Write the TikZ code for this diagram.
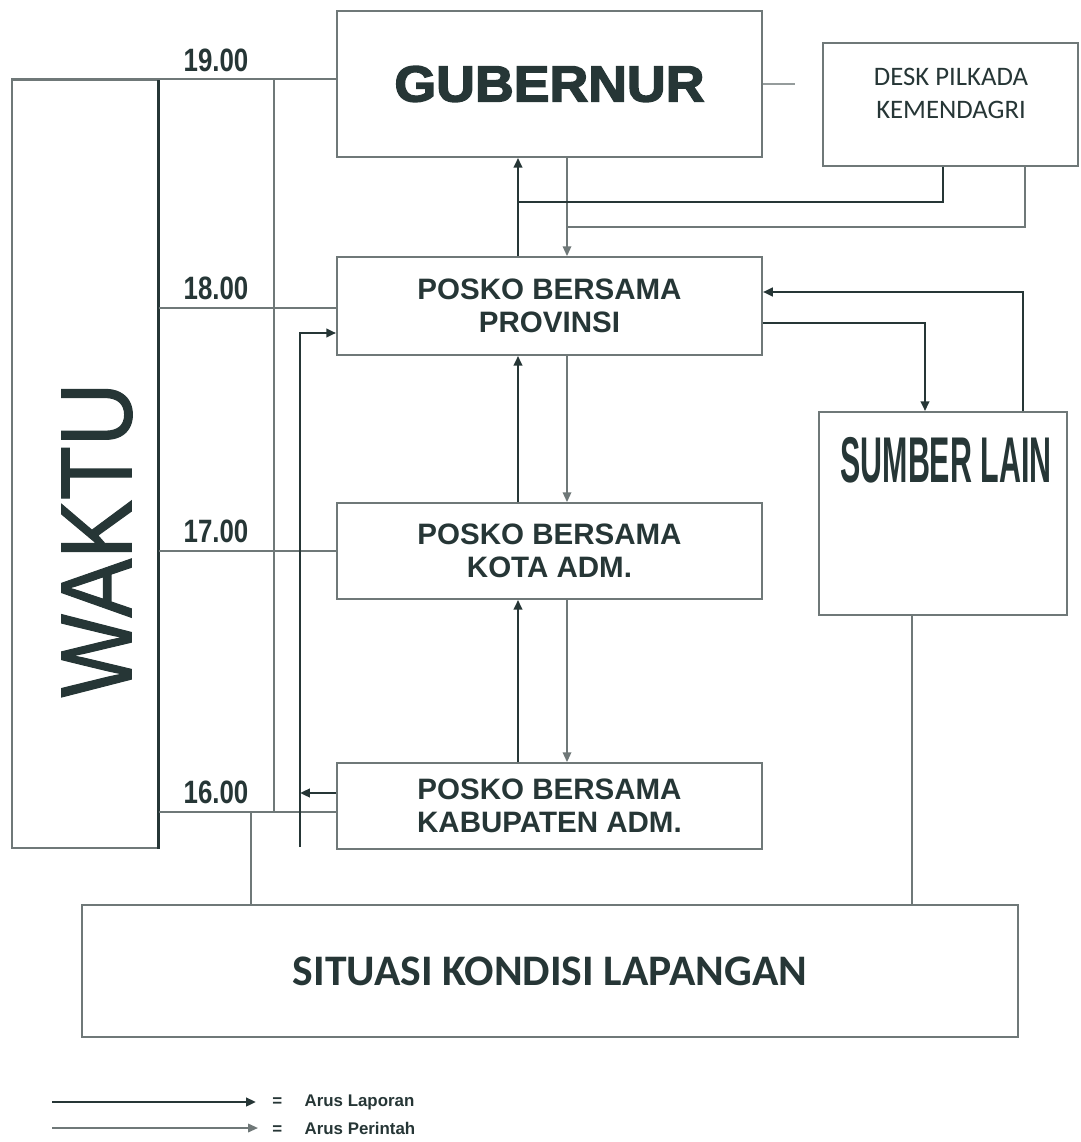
\documentclass[tikz,border=0pt]{standalone}
\usepackage{fontspec}
\setmainfont{Liberation Sans}
\newfontfamily\calfont{Carlito}
\newfontfamily\heavyfont{Liberation Sans Bold}[FakeBold=3,FakeStretch=1.06]
\newfontfamily\midfont{Liberation Sans}[FakeBold=1.2]
\usetikzlibrary{arrows.meta}
\definecolor{ink}{HTML}{263636}
\definecolor{abu}{HTML}{6F7878}
\definecolor{abumuda}{HTML}{959C9C}

\begin{document}
\begin{tikzpicture}[x=0.025cm, y=-0.025cm,
  kotak/.style={draw=abu, line width=1.2pt, text=ink, inner sep=0pt},
  posko/.style={kotak, minimum width=10.625cm, align=center,
    font=\fontsize{21}{23.5}\selectfont\bfseries},
  lapor/.style={draw=ink, line width=2pt, -{Triangle[length=7pt,width=6pt]}},
  perintah/.style={draw=abu, line width=1.3pt, -{Triangle[length=7pt,width=6pt]}},
  garis/.style={draw=abu, line width=1.2pt},
  jam/.style={text=ink, font=\fontsize{23}{23}\selectfont\bfseries, anchor=south, inner sep=0pt},
  legtxt/.style={text=ink, font=\fontsize{12}{12}\selectfont\bfseries, anchor=west, inner sep=0pt}]

  \useasboundingbox (0,0) rectangle (1080,1142);

  \def\xup{518}
  \def\xdn{567}

  % kotak
  \node[kotak, minimum width=3.65cm, minimum height=19.2cm] (waktu) at (85,464) {};
  \node[text=ink, rotate=90, font=\midfont\fontsize{72}{72}\selectfont] (waktutxt) at (97,540)
    {\scalebox{0.87}[1]{WAKTU}};
  \draw[ink, line width=2pt] (waktu.north east) -- (waktu.south east);

  \node[kotak, minimum width=10.625cm, minimum height=3.65cm,
    font=\heavyfont\fontsize{36}{36}\selectfont] (gub) at (549.5,84) {GUBERNUR};

  \node[kotak, minimum width=6.375cm, minimum height=3.075cm] (desk) at (950.5,104.5) {};
  \node[text=ink, align=center, font=\calfont\fontsize{19}{23.4}\selectfont] (desktxt)
    at (951,93.5) {DESK PILKADA\\KEMENDAGRI};

  \node[posko, minimum height=2.45cm] (prov) at (549.5,306) {POSKO BERSAMA\\PROVINSI};
  \node[posko, minimum height=2.4cm] (kota) at (549.5,551) {POSKO BERSAMA\\KOTA ADM.};
  \node[posko, minimum height=2.15cm] (kab) at (549.5,806) {POSKO BERSAMA\\KABUPATEN ADM.};

  \node[kotak, minimum width=6.2cm, minimum height=5.075cm] (sumber) at (943,513.5) {};
  \node[text=ink, font=\fontsize{46}{46}\selectfont\bfseries, anchor=north, inner sep=0pt]
    (sumbertxt) at (946,437) {\scalebox{0.47}[1]{SUMBER LAIN}};

  \node[kotak, minimum width=23.4cm, minimum height=3.3cm,
    font=\calfont\bfseries\fontsize{31}{31}\selectfont] (situasi) at (550,971)
    {SITUASI KONDISI LAPANGAN};

  % garis jam
  \draw[garis] (waktu.north west) -- (gub.west |- waktu.north);
  \node[jam] (j19) at (216,72) {\scalebox{0.8}[1]{19.00}};
  \foreach \p/\t/\y/\n in {prov/18.00/308/18, kota/17.00/551/17, kab/16.00/812/16} {
    \draw[garis] (waktu.east |- 0,\y) -- (\p.west |- 0,\y);
    \node[jam] (j\n) at (216,\y-8) {\scalebox{0.8}[1]{\t}};
  }
  \coordinate (v19) at (274,80);
  \coordinate (v16) at (274,812);
  \draw[garis] (v19) -- (v16);

  % ke situasi
  \coordinate (s16) at (251,812);
  \draw[garis] (s16) -- (s16 |- situasi.north);
  \draw[garis] (912,0 |- sumber.south) -- (912,0 |- situasi.north);

  % laporan kiri
  \coordinate (lb) at (300,847);
  \draw[lapor] (lb) |- (prov.west |- 0,333);
  \draw[lapor] (kab.west |- 0,793) -- (lb |- 0,793);

  % atas bawah
  \foreach \a/\b in {prov/gub, kota/prov, kab/kota} {
    \draw[lapor] (\xup,0 |- \a.north) -- (\xup,0 |- \b.south);
    \draw[perintah] (\xdn,0 |- \b.south) -- (\xdn,0 |- \a.north);
  }

  % desk
  \draw[ink, line width=2pt] (943,0 |- desk.south) |- (\xup,202);
  \draw[garis] (1025,0 |- desk.south) |- (\xdn,227);
  \coordinate (gubend) at (795,82);
  \draw[abumuda, line width=1.2pt] (gub.east) -- (gubend |- gub.east);

  % sumber lain
  \draw[lapor] (1023,0 |- sumber.north) |- (prov.east |- 0,292);
  \draw[lapor] (prov.east |- 0,323) -| (925,0 |- sumber.north);

  % legenda
  \coordinate (l1a) at (52,1102);
  \coordinate (l1b) at (256,1102);
  \coordinate (l2a) at (52,1128);
  \coordinate (l2b) at (258,1128);
  \draw[lapor] (l1a) -- (l1b);
  \draw[perintah] (l2a) -- (l2b);
  \node[legtxt] (leg1) at (272,1102) {=\hspace{16pt}Arus Laporan};
  \node[legtxt] (leg2) at (272,1128) {=\hspace{16pt}Arus Perintah};

\end{tikzpicture}
\end{document}
